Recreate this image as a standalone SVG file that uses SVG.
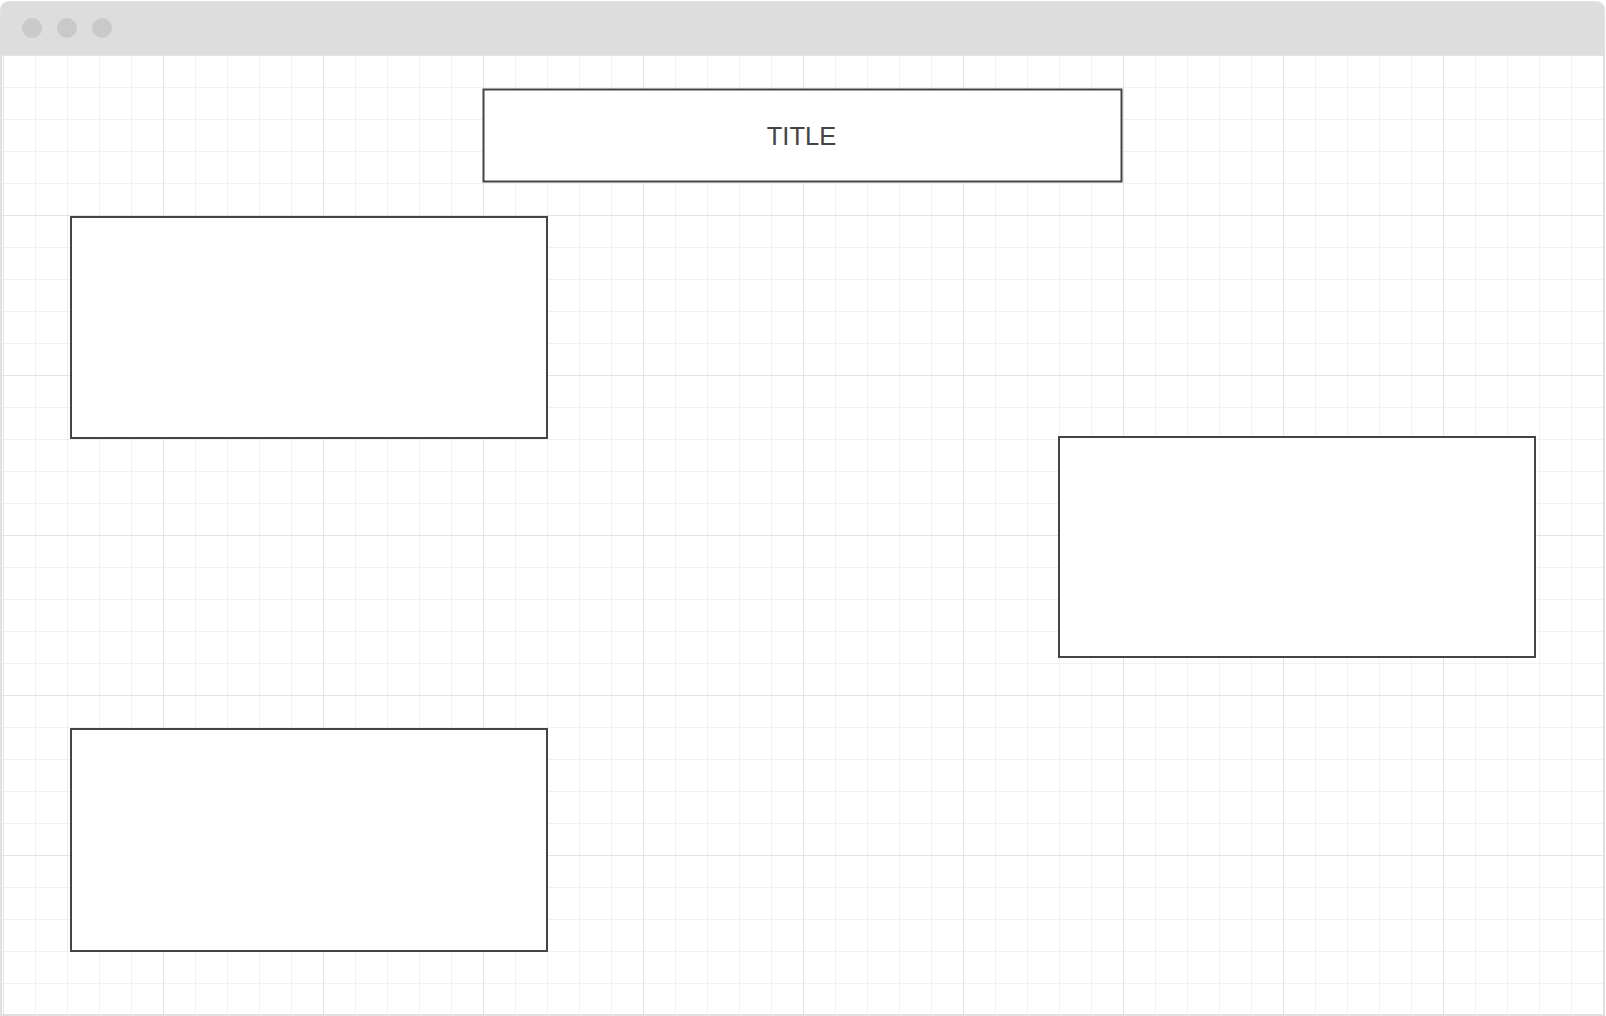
<svg xmlns="http://www.w3.org/2000/svg" width="1606" height="1016" viewBox="0 0 1606 1016">
  <defs>
    <style>
      .minor { stroke: #ececec; stroke-width: 1.5; }
      .major { stroke: #e0e0e0; stroke-width: 1.5; }
      .box { fill: #ffffff; stroke: #444444; stroke-width: 2; }
      .dot { fill: #c9c9c9; }
      .label { font-family: "Liberation Sans", Arial, sans-serif; font-size: 25.5px; fill: #444444; }
    </style>
    <pattern id="gridMinor" x="3" y="55" width="32" height="32" patternUnits="userSpaceOnUse">
      <line class="minor" x1="0" y1="0" x2="0" y2="32"/>
      <line class="minor" x1="0" y1="0" x2="32" y2="0"/>
    </pattern>
    <pattern id="gridMajor" x="3" y="55" width="160" height="160" patternUnits="userSpaceOnUse">
      <line class="major" x1="0" y1="0" x2="0" y2="160"/>
      <line class="major" x1="0" y1="0" x2="160" y2="0"/>
    </pattern>
    <clipPath id="content">
      <rect x="2" y="55" width="1601" height="960"/>
    </clipPath>
  </defs>

  <rect width="1606" height="1016" fill="#ffffff"/>

  <g id="window">
    <path d="M1,1015 V11 Q1,2 10,2 H1595 Q1604,2 1604,11 V1015 Z" fill="#ffffff" stroke="#e0e0e0" stroke-width="2"/>
    <g clip-path="url(#content)">
      <rect x="2" y="55" width="1601" height="961" fill="url(#gridMinor)"/>
      <rect x="2" y="55" width="1601" height="961" fill="url(#gridMajor)"/>
    </g>
    <path d="M1,55 V11 Q1,2 10,2 H1595 Q1604,2 1604,11 V55 Z" fill="#dddddd"/>
    <circle class="dot" cx="32" cy="28" r="10"/>
    <circle class="dot" cx="67" cy="28" r="10"/>
    <circle class="dot" cx="102" cy="28" r="10"/>
  </g>

  <g id="title">
    <rect class="box" x="483.5" y="89.5" width="638" height="92"/>
    <text class="label" x="801.5" y="144.5" text-anchor="middle">TITLE</text>
  </g>

  <g id="box1">
    <rect class="box" x="71" y="217" width="476" height="221"/>
  </g>

  <g id="box2">
    <rect class="box" x="1059" y="437" width="476" height="220"/>
  </g>

  <g id="box3">
    <rect class="box" x="71" y="729" width="476" height="222"/>
  </g>

  <g id="connectors"/>
</svg>
